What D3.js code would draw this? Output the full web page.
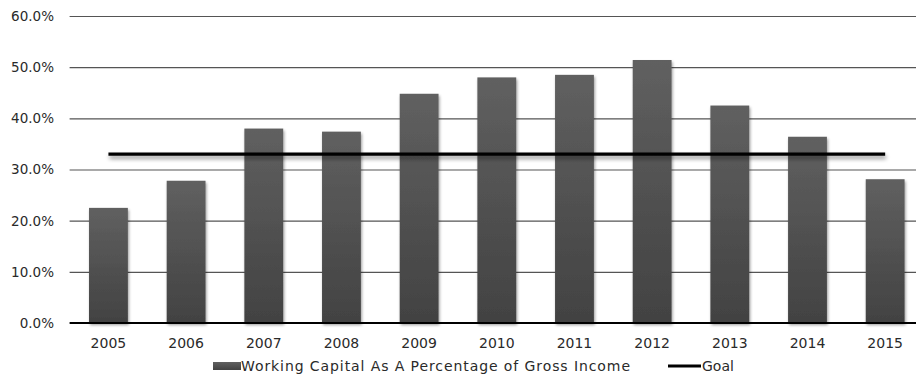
<!DOCTYPE html>
<html>
<head>
<meta charset="utf-8">
<script src="https://cdn.jsdelivr.net/npm/d3@7"></script>
<style>
  body { margin: 0; background: #fff; }
  text { font-family: "DejaVu Sans", sans-serif; fill: #2a2a2a; }
</style>
</head>
<body>
<svg id="chart" width="916" height="386"></svg>
<script>
// values
const years = ["2005", "2006", "2007", "2008", "2009", "2010", "2011", "2012", "2013", "2014", "2015"];
const workingCapital = [22.5, 27.8, 38.0, 37.4, 44.8, 48.0, 48.5, 51.4, 42.5, 36.4, 28.1];
const goal = 33.0;
const yTicks = [0, 10, 20, 30, 40, 50, 60];

const svg = d3.select("#chart");
// plot area runs a bit past the right edge of the picture, as in the original
const plotLeft = 69.6, plotRight = 924, plotTop = 16, plotBottom = 323;

const x = d3.scaleBand().domain(years).range([plotLeft, plotRight]).paddingInner(0.5).paddingOuter(0.25);
const y = d3.scaleLinear().domain([0, 60]).range([plotBottom, plotTop]);

const defs = svg.append("defs");
const grad = defs.append("linearGradient").attr("id", "barGrad")
    .attr("x1", 0).attr("y1", 0).attr("x2", 0).attr("y2", 1);
grad.append("stop").attr("offset", "0%").attr("stop-color", "#606060");
grad.append("stop").attr("offset", "100%").attr("stop-color", "#424242");

function makeShadow(id, blur, dy, alpha) {
  const f = defs.append("filter").attr("id", id)
      .attr("filterUnits", "userSpaceOnUse")
      .attr("x", 0).attr("y", 0).attr("width", 916).attr("height", 386);
  f.append("feGaussianBlur").attr("in", "SourceAlpha").attr("stdDeviation", blur);
  f.append("feOffset").attr("dx", 1).attr("dy", dy);
  f.append("feComponentTransfer").append("feFuncA").attr("type", "linear").attr("slope", alpha);
  const m = f.append("feMerge");
  m.append("feMergeNode");
  m.append("feMergeNode").attr("in", "SourceGraphic");
}
makeShadow("barShadow", 1.8, 1.5, 0.4);
makeShadow("lineShadow", 2.2, 3, 0.45);

// gridlines
svg.append("g")
  .selectAll("line")
  .data(yTicks.filter(d => d > 0))
  .join("line")
    .attr("x1", plotLeft).attr("x2", plotRight)
    .attr("y1", d => y(d) + 0.5).attr("y2", d => y(d) + 0.5)
    .attr("stroke", "#555").attr("stroke-width", 1.2);

// y axis labels
svg.append("g")
  .selectAll("text")
  .data(yTicks)
  .join("text")
    .attr("x", 54)
    .attr("y", d => y(d))
    .attr("dy", "0.36em")
    .attr("text-anchor", "end")
    .attr("font-size", 13.5)
    .text(d => d.toFixed(1) + "%");

// bars
svg.append("g")
  .selectAll("rect")
  .data(workingCapital)
  .join("rect")
    .attr("x", (d, i) => x(years[i]))
    .attr("y", d => y(d))
    .attr("width", x.bandwidth())
    .attr("height", d => plotBottom - y(d))
    .attr("fill", "url(#barGrad)")
    .attr("filter", "url(#barShadow)");

// zero line
svg.append("line")
    .attr("x1", plotLeft).attr("x2", plotRight)
    .attr("y1", plotBottom).attr("y2", plotBottom)
    .attr("stroke", "#000").attr("stroke-width", 2);

// goal line
const cx = d => x(d) + x.bandwidth() / 2;
svg.append("line")
    .attr("x1", cx(years[0])).attr("x2", cx(years[years.length - 1]))
    .attr("y1", y(goal)).attr("y2", y(goal))
    .attr("stroke", "#000").attr("stroke-width", 3.3)
    .attr("filter", "url(#lineShadow)");

// x labels
svg.append("g")
  .selectAll("text")
  .data(years)
  .join("text")
    .attr("x", d => cx(d))
    .attr("y", 348)
    .attr("text-anchor", "middle")
    .attr("font-size", 14)
    .text(d => d);

// legend
const lg = svg.append("g");
lg.append("rect").attr("x", 213).attr("y", 362).attr("width", 28).attr("height", 8)
    .attr("fill", "url(#barGrad)");
lg.append("text").attr("x", 241).attr("y", 371).attr("font-size", 14)
    .attr("textLength", 389)
    .text("Working Capital As A Percentage of Gross Income");
lg.append("line").attr("x1", 668).attr("x2", 701).attr("y1", 366).attr("y2", 366)
    .attr("stroke", "#000").attr("stroke-width", 3);
lg.append("text").attr("x", 702).attr("y", 371).attr("font-size", 14)
    .text("Goal");
</script>
</body>
</html>
